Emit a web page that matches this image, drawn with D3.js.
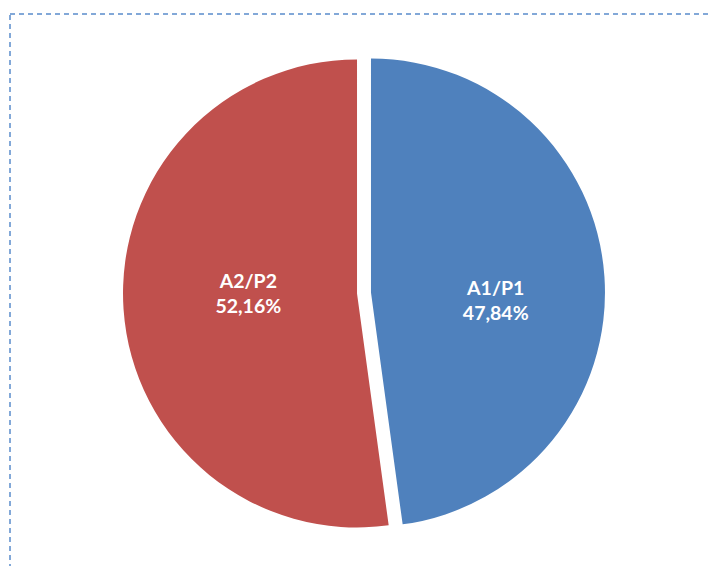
<!DOCTYPE html>
<meta charset="utf-8">
<body style="margin:0;background:#fff">
<style>
  .lbl { font-family: Lato, "Open Sans", sans-serif; font-weight: bold; font-size: 19.5px; fill: #fff; }
</style>
<svg width="709" height="566"></svg>
<script src="https://d3js.org/d3.v7.min.js"></script>
<script>
// chart data
var labels = ["A1/P1", "A2/P2"];
var values = [47.84, 52.16];
var colors = ["#4f81bd", "#c0504d"];

var svg = d3.select("svg");

// dashed frame (runs off the right and bottom edge)
svg.append("rect")
    .attr("x", 10).attr("y", 14)
    .attr("width", 760).attr("height", 620)
    .attr("fill", "none")
    .attr("stroke", "#5a8ccb")
    .attr("stroke-width", 1.5)
    .attr("stroke-dasharray", "5,4");

var cx = 364, cy = 293, r = 234, explode = 7;

var pie = d3.pie().sort(null).value(function(d) { return d; });
var arcs = pie(values);
var arc = d3.arc().innerRadius(0).outerRadius(r);
var labelArc = d3.arc().innerRadius(0).outerRadius(r);

var g = svg.append("g").attr("transform", "translate(" + cx + "," + cy + ")");

var slice = g.selectAll(".slice")
    .data(arcs)
    .enter().append("g")
    .attr("class", "slice")
    .attr("transform", function(d) {
      var a = (d.startAngle + d.endAngle) / 2;
      return "translate(" + (Math.sin(a) * explode) + "," + (-Math.cos(a) * explode) + ")";
    });

slice.append("path")
    .attr("d", arc)
    .attr("fill", function(d, i) { return colors[i]; });

// label block: centred a little right of the centroid, like Excel places them
var txt = slice.append("text")
    .attr("class", "lbl")
    .attr("text-anchor", "middle")
    .attr("transform", function(d) {
      var c = labelArc.centroid(d);
      var mid = 4 - 0.47 * c[1];
      return "translate(" + (c[0] + 8) + "," + (mid - 5.5) + ")";
    });

txt.append("tspan")
    .attr("x", 0).attr("y", 0)
    .text(function(d, i) { return labels[i]; });
txt.append("tspan")
    .attr("x", 0).attr("y", 25)
    .text(function(d, i) { return d3.format(".2f")(values[i]).replace(".", ",") + "%"; });
</script>
</body>
